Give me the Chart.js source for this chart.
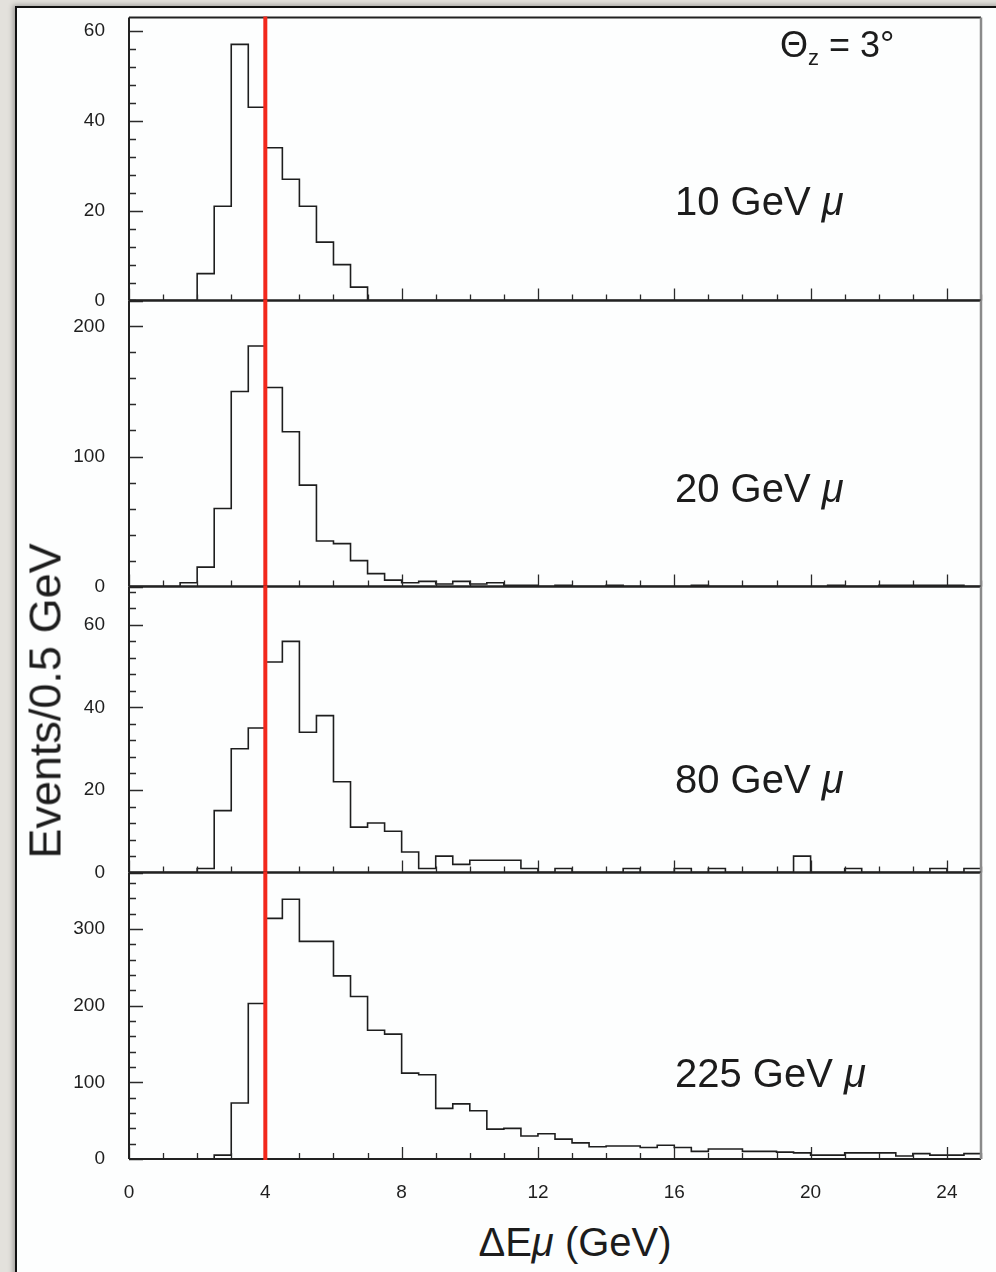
<!DOCTYPE html>
<html><head><meta charset="utf-8">
<script src="https://cdn.jsdelivr.net/npm/chart.js@4.4.1/dist/chart.umd.min.js"></script>
<style>
html,body{margin:0;padding:0;}
body{width:996px;height:1272px;position:relative;overflow:hidden;background:#e3e1dc;font-family:"Liberation Sans",Arial,Helvetica,sans-serif;color:#1c1c1c;}
#frame{position:absolute;left:15px;top:6px;width:1010px;height:1300px;background:#fdfefe;border-left:2px solid #111;border-top:2px solid #111;box-shadow:-2px -1px 5px rgba(0,0,0,0.3);}
canvas{position:absolute;left:0;}
.lbl{position:absolute;font-size:40px;line-height:1;white-space:nowrap;}
</style></head>
<body>
<div id="frame"></div>
<canvas id="c0" width="996" height="340"></canvas>
<canvas id="c1" width="996" height="340"></canvas>
<canvas id="c2" width="996" height="340"></canvas>
<canvas id="c3" width="996" height="400"></canvas>
<div class="lbl" style="left:780px;top:27px;font-size:36px;">Θ<span style="font-size:22px;position:relative;top:8px;">z</span> = 3°</div>
<div class="lbl" style="left:675px;top:181px;">10 GeV <i>μ</i></div>
<div class="lbl" style="left:675px;top:468px;">20 GeV <i>μ</i></div>
<div class="lbl" style="left:675px;top:759px;">80 GeV <i>μ</i></div>
<div class="lbl" style="left:675px;top:1053px;">225 GeV <i>μ</i></div>
<div class="lbl" style="left:45px;top:701px;font-size:45px;transform:translate(-50%,-50%) rotate(-90deg);">Events/0.5 GeV</div>
<div class="lbl" style="left:575px;top:1242px;transform:translate(-50%,-50%);">ΔE<i>μ</i> (GeV)</div>
<script>
// ---- data ----
const bins = [0,0.5,1,1.5,2,2.5,3,3.5,4,4.5,5,5.5,6,6.5,7,7.5,8,8.5,9,9.5,
  10,10.5,11,11.5,12,12.5,13,13.5,14,14.5,15,15.5,16,16.5,17,17.5,18,18.5,19,19.5,
  20,20.5,21,21.5,22,22.5,23,23.5,24,24.5];
const binEnd = 25;
const e10 = [0,0,0,0,6,21,57,43,34,27, 21,13,8,3,0,0,0,0,0,0, 0,0,0,0,0,0,0,0,0,0, 0,0,0,0,0,0,0,0,0,0, 0,0,0,0,0,0,0,0,0,0];
const e20 = [0,0,0,3,15,60,150,185,153,119, 78,35,33,20,10,5,3,4,2,4, 2,3,1,1,0,1,0,0,1,0, 0,0,0,1,0,0,0,0,0,0, 0,1,0,0,1,1,1,1,1,0];
const e80 = [0,0,0,0,1,15,30,35,51,56, 34,38,22,11,12,10,5,1,4,2, 3,3,3,1,0,1,0,0,0,1, 0,0,1,0,1,0,0,0,0,4, 0,0,1,0,0,0,0,1,0,1];
const e225 = [0,0,0,0,0,5,73,203,314,339, 284,284,239,212,168,163,112,110,66,72, 63,39,40,30,33,26,21,16,17,17, 15,18,15,10,13,13,10,10,9,8, 5,5,8,8,8,4,7,5,5,7];
const series = [e10, e20, e80, e225];
const yMax = [63, 220, 69.3, 374];
const yTickLabels = [[0,20,40,60],[0,100,200],[0,20,40,60],[0,100,200,300]];
const yMinorStep = [4, 20, 4, 20];
const xTickLabels = [0,4,8,12,16,20,24];
const xMinorStep = 1;
const cutValue = 4;

// ---- layout ----
const panelTop = [17, 300, 586, 872];
const panelBottom = [300, 586, 872, 1159];
const padTop = 20;
const tickFont = { size: 19, family: '"Liberation Sans", Arial, sans-serif' };

const framePlugin = {
  id: 'frameTicks',
  afterDatasetsDraw(chart, args, opts) {
    const ctx = chart.ctx, ca = chart.chartArea;
    const xs = chart.scales.x, ys = chart.scales.y;
    ctx.save();
    ctx.strokeStyle = '#2a2a2a';
    ctx.lineWidth = 1.3;
    ctx.beginPath();
    for (let v = 0; v <= binEnd; v += xMinorStep) {
      const px = Math.round(xs.getPixelForValue(v)) + 0.5;
      const len = xTickLabels.includes(v) ? 12 : 6;
      ctx.moveTo(px, ca.bottom); ctx.lineTo(px, ca.bottom - len);
    }
    const step = yMinorStep[opts.idx];
    for (let v = 0; v <= yMax[opts.idx]; v += step) {
      const py = Math.round(ys.getPixelForValue(v)) + 0.5;
      const len = yTickLabels[opts.idx].includes(v) ? 14 : 7;
      ctx.moveTo(ca.left, py); ctx.lineTo(ca.left + len, py);
    }
    ctx.stroke();
    // borders
    ctx.lineWidth = 2;
    ctx.strokeStyle = '#222';
    ctx.beginPath();
    ctx.moveTo(ca.left, ca.top); ctx.lineTo(ca.left, ca.bottom);
    ctx.moveTo(ca.left, ca.bottom); ctx.lineTo(ca.right, ca.bottom);
    ctx.moveTo(ca.left, ca.top); ctx.lineTo(ca.right, ca.top);
    ctx.stroke();
    ctx.strokeStyle = '#8a8a8a';
    ctx.lineWidth = 2.5;
    ctx.beginPath();
    ctx.moveTo(ca.right, ca.top); ctx.lineTo(ca.right, ca.bottom);
    ctx.stroke();
    // red cut line
    const rx = xs.getPixelForValue(cutValue);
    ctx.strokeStyle = '#f2281c';
    ctx.lineWidth = 4;
    ctx.beginPath();
    ctx.moveTo(rx, ca.top - 1); ctx.lineTo(rx, ca.bottom + 1);
    ctx.stroke();
    ctx.restore();
  }
};

function makeChart(cv, vals, i) {
  const isLast = i === 3;
  const pts = bins.map((b, k) => ({x: b, y: vals[k]}));
  pts.push({x: binEnd, y: vals[vals.length - 1]});
  const xScale = {
    type: 'linear', min: 0, max: binEnd, display: isLast,
    grid: { display: false }, border: { display: false },
    afterBuildTicks: s => { s.ticks = xTickLabels.map(v => ({value: v})); },
    ticks: { color: '#1e1e1e', font: tickFont, padding: 14, maxRotation: 0 }
  };
  if (isLast) xScale.afterFit = s => { s.height = 42; };
  return new Chart(cv, {
    type: 'line',
    data: { datasets: [{
      data: pts, stepped: 'before', borderColor: '#1e1e1e', borderWidth: 1.6,
      pointRadius: 0, fill: false, tension: 0
    }]},
    options: {
      responsive: false, maintainAspectRatio: false, animation: false, events: [],
      layout: { padding: { left: 0, right: 15, top: padTop, bottom: 10 } },
      plugins: { legend: {display: false}, tooltip: {enabled: false}, frameTicks: {idx: i} },
      scales: {
        x: xScale,
        y: {
          type: 'linear', min: 0, max: yMax[i],
          grid: { display: false }, border: { display: false },
          afterBuildTicks: s => { s.ticks = yTickLabels[i].map(v => ({value: v})); },
          afterFit: s => { s.width = 129; },
          ticks: { color: '#1e1e1e', font: tickFont, padding: 16 }
        }
      }
    },
    plugins: [framePlugin]
  });
}

series.forEach((vals, i) => {
  const cv = document.getElementById('c' + i);
  const want = panelBottom[i] - panelTop[i];
  let chart = makeChart(cv, vals, i);
  for (let it = 0; it < 4; it++) {
    const ca = chart.chartArea;
    const diff = (ca.bottom - ca.top) - want;
    if (Math.abs(diff) < 0.5) break;
    const newH = Math.round(cv.height - diff);
    chart.destroy();
    cv.width = 996; cv.height = newH;
    cv.style.width = '996px'; cv.style.height = newH + 'px';
    chart = makeChart(cv, vals, i);
  }
  cv.style.top = (panelTop[i] - chart.chartArea.top) + 'px';
});
</script>
</body></html>
